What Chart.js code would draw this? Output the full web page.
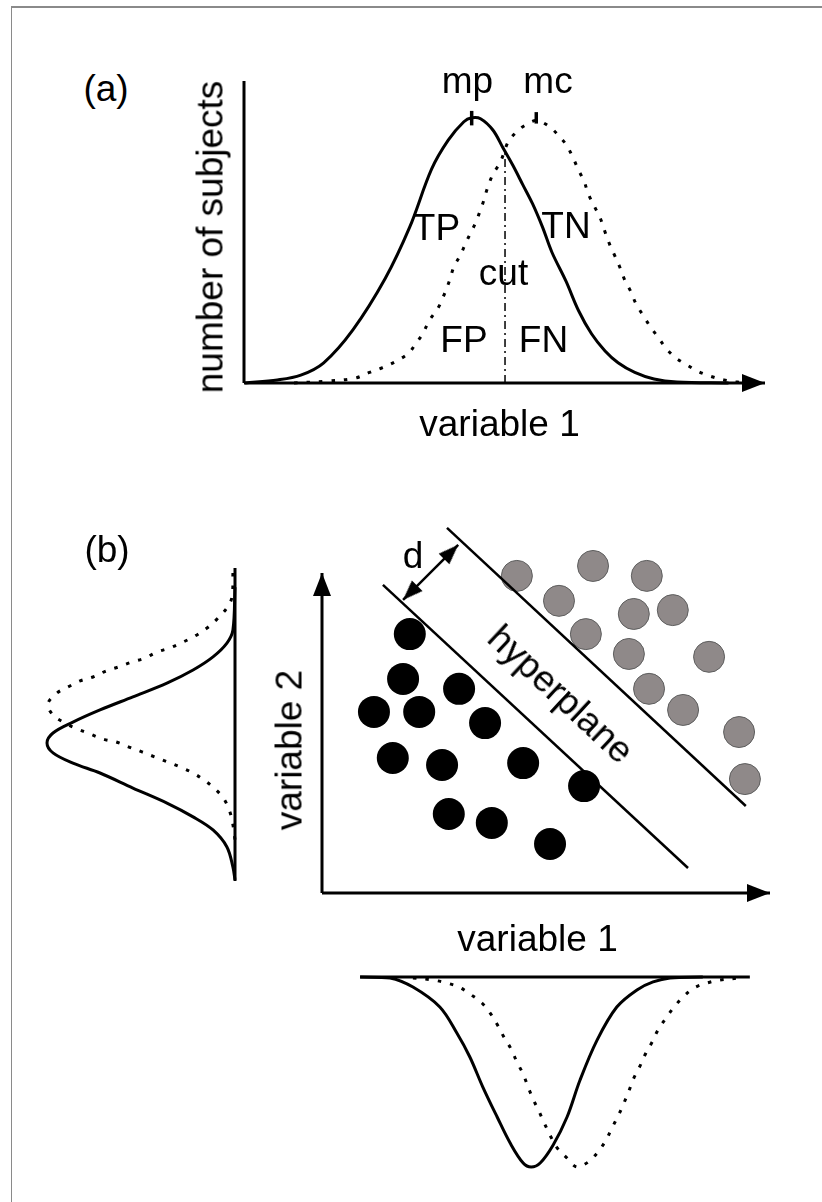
<!DOCTYPE html>
<html>
<head>
<meta charset="utf-8">
<script src="https://cdn.jsdelivr.net/npm/chart.js@4.4.1/dist/chart.umd.min.js"></script>
<style>
html,body{margin:0;padding:0;background:#fff;}
#page{position:relative;width:822px;height:1202px;overflow:hidden;background:#fff;}
#frame{position:absolute;left:11px;top:6px;width:900px;height:1300px;border-top:2px solid #8a8a8a;border-left:1px solid #8a8a8a;}
canvas{position:absolute;}
.lbl{position:absolute;font-family:'Liberation Sans',Arial,Helvetica,sans-serif;font-size:37px;line-height:37px;color:#000;white-space:nowrap;}
</style>
</head>
<body>
<div id="page">
  <div id="frame"></div>
  <canvas id="chartA"></canvas>
  <canvas id="chartC"></canvas>
  <canvas id="chartB"></canvas>
  <canvas id="chartD"></canvas>
</div>
<script>
// ================= DATA =================
// Panel (a): x = variable 1 (0..100), y = number of subjects (0..100)
const aPatients = [[0.2,0],[6.4,1.0],[10.9,2.6],[15.3,6.7],[20.9,17.6],[27.1,34.6],[31.8,51.6],[36.0,70.8],[39.2,80.4],[42.2,86.5],[43.7,87.8],[45.4,87.5],[47.8,83.7],[49.7,77.9],[51.6,72.1],[53.5,65.7],[55.4,59.3],[57.3,51.6],[59.1,43.3],[61.8,33.7],[64.2,24.0],[66.7,16.3],[69.3,10.6],[71.8,6.7],[75.0,3.5],[78.7,1.3],[83.1,0.3],[93.0,0]];
const aControls = [[9.6,0],[15.8,0.6],[21.3,1.6],[24.1,3.5],[26.6,5.1],[29.4,7.4],[31.6,9.9],[33.0,13.1],[34.3,16.3],[35.6,20.8],[37.3,25.0],[38.4,29.2],[39.4,33.7],[40.3,38.5],[41.6,42.6],[42.6,46.5],[43.5,49.7],[44.4,52.9],[45.8,59.3],[46.7,64.4],[47.8,69.2],[49.2,73.1],[50.7,79.8],[52.4,83.3],[53.9,85.3],[56.1,86.9],[58.6,84.9],[60.5,81.7],[62.0,78.5],[63.3,74.0],[64.2,70.5],[65.3,66.7],[66.1,62.5],[67.4,58.0],[68.4,54.5],[69.3,50.0],[70.2,45.8],[71.2,42.0],[72.1,38.5],[73.1,34.0],[74.2,30.4],[75.3,26.0],[76.6,22.4],[78.0,18.6],[79.5,15.1],[81.0,11.5],[82.9,8.3],[84.9,6.1],[87.2,3.8],[89.6,2.2],[92.1,1.0],[94.7,0.3],[98.1,0]];
const aCut = [[50.1,0],[50.1,77.2]];
const aMeanP = [[43.7,85.3],[43.7,90.1]];
const aMeanC = [[56.1,85.9],[56.1,89.7]];
const aAxisX = [[0,0],[100,0]];
const aAxisY = [[0,0],[0,100]];

// Panel (b): x = variable 1 (0..100), y = variable 2 (0..100)
const bPatients = [[19.6,80.9],[18.1,66.9],[30.6,63.8],[11.6,56.6],[21.7,56.6],[36.4,53.1],[15.8,42.2],[26.8,40.0],[44.9,40.6],[58.5,33.4],[28.3,24.7],[37.9,21.9],[50.9,15.3]];
const bControls = [[43.5,99.1],[60.5,102.2],[72.5,99.1],[52.9,91.3],[69.6,87.2],[78.3,88.4],[58.9,80.9],[68.5,74.7],[86.4,73.8],[73.0,63.8],[80.6,57.2],[93.1,50.3],[94.4,35.6]];
const bMarginLow = [[13.6,96.3],[81.7,7.8]];
const bMarginHigh = [[27.9,114.1],[94.6,27.2]];
const bGapD = [[18.1,91.6],[30.4,108.8]];
const bAxisX = [[0,0],[100,0]];
const bAxisY = [[0,0],[0,100]];

// Marginal of variable 2 (left): x = density (0..100, grows leftwards), y = variable 2
const cPatients = [[0,95.6],[1.1,82.2],[4.3,78.1],[11.7,73.8],[22.3,69.7],[36.2,65.6],[54.3,61.3],[71.8,57.2],[86.2,53.4],[96.8,50.0],[100,46.9],[96.8,43.8],[86.2,40.6],[71.8,37.5],[54.3,32.8],[36.2,28.1],[22.3,23.8],[11.7,19.7],[4.3,14.4],[1.1,8.1],[0,4.1]];
const cControls = [[1.1,100],[1.6,92.5],[4.3,89.1],[9.6,85.6],[14.9,82.8],[21.3,80.3],[27.7,78.4],[34.6,76.6],[41.5,75.3],[47.9,73.4],[54.8,72.2],[62.2,70.6],[68.6,69.4],[75.5,67.5],[82.4,66.3],[88.8,64.4],[94.7,62.5],[99.5,59.1],[96.8,55.6],[90.4,53.1],[84.0,51.3],[77.1,49.7],[70.2,48.1],[63.3,47.2],[56.4,45.6],[49.5,44.1],[42.6,42.5],[35.6,40.9],[29.3,39.4],[22.3,37.5],[16.5,35.3],[10.6,32.5],[5.9,29.4],[2.7,25.3],[1.1,21.3],[0,16.6]];
const cAxis = [[0,3.75],[0,101.6]];

// Marginal of variable 1 (bottom): x = variable 1, y = density (0..100, grows downwards)
const dPatients = [[8.5,0],[15.2,0.5],[20.3,5.3],[26.3,15.8],[30.1,29.5],[33.0,42.1],[35.9,57.9],[39.1,73.7],[42.0,87.4],[44.9,97.9],[46.7,100],[48.7,97.9],[51.6,88.4],[54.7,73.7],[57.6,54.2],[61.4,33.2],[65.8,15.8],[70.3,6.8],[73.9,2.6],[77.7,0.5],[85.0,0]];
const dControls = [[20.3,0.5],[24.8,1.6],[27.9,3.2],[30.6,5.3],[33.0,8.9],[35.7,13.7],[37.5,18.9],[39.3,25.8],[40.6,31.6],[42.2,37.9],[43.5,44.7],[44.9,51.1],[46.0,57.9],[47.1,64.2],[48.4,70.5],[49.6,76.8],[51.1,84.2],[52.5,90.0],[54.7,95.3],[56.9,100],[59.4,97.4],[61.6,92.1],[63.4,85.8],[64.7,79.5],[66.1,73.2],[67.4,66.3],[68.5,60.0],[69.6,53.2],[71.0,46.8],[72.3,40.0],[73.7,34.2],[75.0,27.9],[76.8,21.6],[78.6,15.8],[80.6,10.5],[83.0,5.8],[85.9,3.2],[88.8,1.6],[93.3,0.5]];
const dAxis = [[8.5,0],[95.5,0]];

// Text labels (page layout)
const labels = [
  {t:'(a)', x:106, base:101},
  {t:'number of subjects', cx:210, cy:237, rot:-90},
  {t:'mp', x:467.5, base:93},
  {t:'mc', x:548, base:93},
  {t:'TP', x:436.5, base:240},
  {t:'TN', x:566, base:238},
  {t:'cut', x:503.5, base:285},
  {t:'FP', x:464, base:352},
  {t:'FN', x:543.5, base:352},
  {t:'variable 1', x:499.5, base:436},
  {t:'(b)', x:107, base:562},
  {t:'d', x:413, base:568},
  {t:'hyperplane', cx:561, cy:694, rot:43},
  {t:'variable 2', cx:289, cy:750, rot:-90},
  {t:'variable 1', x:537.5, base:951}
];

// ================= DRAWING =================
function arrowHead(len, wid){
  const c = document.createElement('canvas');
  c.width = wid; c.height = len*2;
  const g = c.getContext('2d');
  g.fillStyle = '#000';
  g.beginPath(); g.moveTo(wid/2, len); g.lineTo(wid, 2*len); g.lineTo(0, 2*len); g.closePath(); g.fill();
  return c;
}
const axisHead = arrowHead(23, 18);
const gapHead = arrowHead(20, 15);

const pts = a => a.map(([x,y]) => ({x, y}));
function line(a, o){
  return Object.assign({data: pts(a), showLine: true, borderColor: '#000', borderWidth: 3,
    pointRadius: 0, pointHoverRadius: 0, tension: 0.35, clip: false, fill: false}, o || {});
}
const dotted = {borderDash: [3.5, 9], borderWidth: 3};
function arrowLine(a, head, rotEnd, rotStart, w){
  return line(a, {tension: 0, borderWidth: w || 3, pointStyle: head, pointBorderWidth: 0,
    pointRadius: [rotStart === undefined ? 0 : 45, 45], pointRotation: [rotStart || 0, rotEnd]});
}
function dots(a, fill, border, bw, r){
  return {data: pts(a), showLine: false, pointRadius: r, pointHoverRadius: r, pointBackgroundColor: fill,
    pointBorderColor: border, pointBorderWidth: bw, clip: false};
}

function mkChart(id, area, pad, xr, yr, datasets){
  const c = document.getElementById(id);
  const w = area.r - area.l + pad*2, h = area.b - area.t + pad*2;
  c.width = w; c.height = h;
  c.style.left = (area.l - pad) + 'px'; c.style.top = (area.t - pad) + 'px';
  c.style.width = w + 'px'; c.style.height = h + 'px';
  return new Chart(c, {
    type: 'scatter',
    data: {datasets},
    options: {
      responsive: false, animation: false, events: [],
      layout: {padding: pad},
      plugins: {legend: {display: false}, tooltip: {enabled: false}},
      scales: {
        x: {type: 'linear', display: false, min: xr[0], max: xr[1], reverse: !!xr[2]},
        y: {type: 'linear', display: false, min: yr[0], max: yr[1], reverse: !!yr[2]}
      }
    }
  });
}

// Panel (a)
mkChart('chartA', {l:239, t:76, r:770, b:388}, 40, [0,100], [0,100], [
  line(aMeanP, {tension:0, borderWidth:3.5}),
  line(aMeanC, {tension:0, borderWidth:3.5}),
  line(aPatients),
  line(aControls, dotted),
  line(aCut, {tension:0, borderWidth:1.5, borderDash:[8,4,2,4]}),
  line(aAxisY, {tension:0, borderWidth:3}),
  arrowLine(aAxisX, axisHead, 90)
]);

// Panel (b) scatter
mkChart('chartB', {l:322, t:573, r:770, b:893}, 60, [0,100], [0,100], [
  line(bMarginLow, {tension:0, borderWidth:2.5}),
  line(bMarginHigh, {tension:0, borderWidth:2.5}),
  arrowLine(bGapD, gapHead, 45, 225, 2.5),
  dots(bPatients, '#000', '#000', 0, 16),
  dots(bControls, '#8f8989', '#5e5e5e', 1, 15.5),
  line(bAxisY, {tension:0, borderWidth:3, pointStyle: axisHead, pointBorderWidth:0, pointRadius:[0,45], pointRotation:[0,0]}),
  arrowLine(bAxisX, axisHead, 90)
]);

// Left marginal (variable 2)
mkChart('chartC', {l:47, t:573, r:235, b:893}, 40, [0,100,true], [0,100], [
  line(cPatients),
  line(cControls, dotted),
  line(cAxis, {tension:0, borderWidth:3})
]);

// Bottom marginal (variable 1)
mkChart('chartD', {l:322, t:977, r:770, b:1167}, 40, [0,100], [0,100,true], [
  line(dPatients),
  line(dControls, dotted),
  line(dAxis, {tension:0, borderWidth:3})
]);

// Labels
const page = document.getElementById('page');
const BASE_OFF = 31.3; // baseline offset from top of a 37px line box (Liberation Sans)
labels.forEach(L => {
  const d = document.createElement('div');
  d.className = 'lbl';
  d.textContent = L.t;
  if (L.rot !== undefined) {
    d.style.left = L.cx + 'px'; d.style.top = L.cy + 'px';
    d.style.transform = 'translate(-50%,-50%) rotate(' + L.rot + 'deg)';
  } else {
    d.style.left = L.x + 'px'; d.style.top = (L.base - BASE_OFF) + 'px';
    d.style.transform = 'translateX(-50%)';
  }
  page.appendChild(d);
});
</script>
</body>
</html>
